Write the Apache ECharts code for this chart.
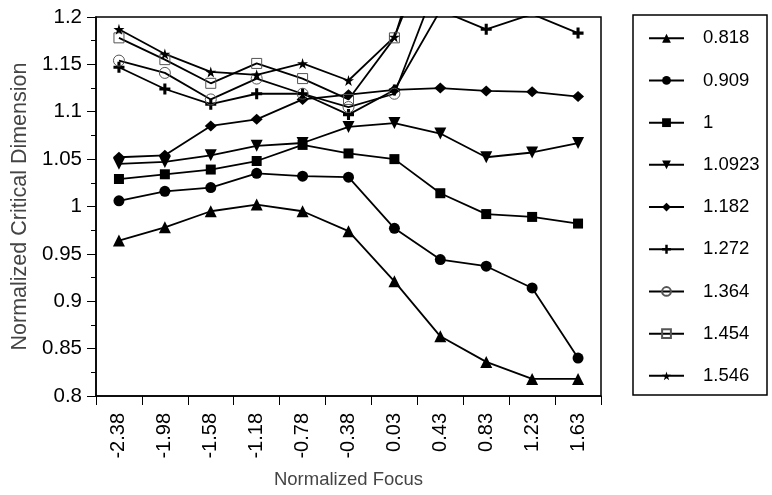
<!DOCTYPE html>
<html>
<head>
<meta charset="utf-8">
<script src="https://cdn.jsdelivr.net/npm/echarts@6/dist/echarts.min.js"></script>
<style>html,body{margin:0;padding:0;background:#fff}#c{width:772px;height:495px}</style>
</head>
<body>
<div id="c"></div>
<script>
var categories = ['-2.38','-1.98','-1.58','-1.18','-0.78','-0.38','0.03','0.43','0.83','1.23','1.63'];
var seriesNames = ['0.818','0.909','1','1.0923','1.182','1.272','1.364','1.454','1.546'];
var s0818  = [0.964, 0.978, 0.995, 1.002, 0.995, 0.974, 0.921, 0.863, 0.836, 0.818, 0.818];
var s0909  = [1.006, 1.016, 1.020, 1.035, 1.032, 1.031, 0.977, 0.944, 0.937, 0.914, 0.840];
var s1     = [1.029, 1.034, 1.039, 1.048, 1.065, 1.056, 1.050, 1.014, 0.992, 0.989, 0.982];
var s10923 = [1.045, 1.047, 1.054, 1.064, 1.067, 1.084, 1.088, 1.077, 1.052, 1.057, 1.067];
var s1182  = [1.052, 1.054, 1.085, 1.092, 1.113, 1.118, 1.123, 1.125, 1.122, 1.121, 1.116];
var s1272  = [1.147, 1.124, 1.108, 1.119, 1.119, 1.097, 1.123, 1.207, 1.187, 1.203, 1.183];
var s1364  = [1.154, 1.141, 1.113, 1.135, 1.119, 1.105, 1.119, 1.245, 1.26, 1.27, 1.28];
var s1454  = [1.178, 1.155, 1.130, 1.151, 1.135, 1.113, 1.178, 1.330, 1.34, 1.35, 1.36];
var s1546  = [1.187, 1.161, 1.142, 1.139, 1.151, 1.133, 1.179, 1.300, 1.31, 1.32, 1.33];
var yTicks = {min: 0.8, max: 1.2, interval: 0.05};

var FONT = '"Liberation Sans", Arial, sans-serif';
var PLUS = 'path://M3.6,0H6.4V3.6H10V6.4H6.4V10H3.6V6.4H0V3.6H3.6Z';
var STAR = 'path://M50,0 L61,35 L98,35 L68,57 L79,91 L50,70 L21,91 L32,57 L2,35 L39,35 Z';

var values = [s0818, s0909, s1, s10923, s1182, s1272, s1364, s1454, s1546];
var styles = [
  {symbol:'triangle', size:12, rot:0, fill:'#000', border:null},
  {symbol:'circle', size:11, rot:0, fill:'#000', border:null},
  {symbol:'rect', size:10, rot:0, fill:'#000', border:null},
  {symbol:'triangle', size:12, rot:180, fill:'#000', border:null},
  {symbol:'diamond', size:[12,11], rot:0, fill:'#000', border:null},
  {symbol:PLUS, size:11, rot:0, fill:'#000', border:null},
  {symbol:'circle', size:11, rot:0, fill:'rgba(0,0,0,0)', border:'#555'},
  {symbol:'rect', size:10, rot:0, fill:'rgba(0,0,0,0)', border:'#555'},
  {symbol:STAR, size:11, rot:0, fill:'#000', border:null}
];

var series = seriesNames.map(function(n, i){
  var st = styles[i];
  var item = {color: st.fill};
  if (st.border) { item.borderColor = st.border; item.borderWidth = 1; }
  return {
    name: n, type: 'line', data: values[i],
    symbol: st.symbol, symbolSize: st.size, symbolRotate: st.rot,
    showAllSymbol: true, clip: true,
    lineStyle: {color: '#000', width: 1.8},
    itemStyle: item,
    emphasis: {disabled: true},
    animation: false
  };
});

var chart = echarts.init(document.getElementById('c'), null, {renderer: 'canvas'});
chart.setOption({
  backgroundColor: '#fff',
  animation: false,
  grid: {left: 96, top: 17, right: 171, bottom: 99, show: true, borderColor: '#000', borderWidth: 1.5, backgroundColor: 'transparent'},
  legend: {
    orient: 'vertical', left: 648, top: 28.75, padding: 0,
    itemWidth: 35, itemHeight: 11, itemGap: 23.2,
    data: seriesNames,
    textStyle: {fontFamily: FONT, fontSize: 18.5, color: '#000', padding: [0,0,0,14]},
    selectedMode: false
  },
  graphic: [{type: 'rect', shape: {x: 633, y: 15, width: 134, height: 380}, style: {fill: 'none', stroke: '#000', lineWidth: 1.5}}],
  xAxis: {
    type: 'category', data: categories, boundaryGap: true,
    name: 'Normalized Focus', nameLocation: 'middle', nameGap: 74,
    nameTextStyle: {fontFamily: FONT, fontSize: 18.5, color: '#444'},
    axisLine: {lineStyle: {color: '#000', width: 1.5}},
    axisTick: {show: true, interval: 0, alignWithLabel: false, length: 9, lineStyle: {color: '#000', width: 1}},
    axisLabel: {interval: 0, rotate: 90, margin: 17, fontFamily: FONT, fontSize: 20, color: '#000'},
    splitLine: {show: false}
  },
  yAxis: {
    type: 'value', min: yTicks.min, max: yTicks.max, interval: yTicks.interval,
    name: 'Normalized Critical Dimension', nameLocation: 'middle', nameGap: 58,
    nameTextStyle: {fontFamily: FONT, fontSize: 21.5, color: '#444'},
    axisLine: {show: true, lineStyle: {color: '#000', width: 1.5}},
    axisTick: {show: true, length: 9, lineStyle: {color: '#000', width: 1}},
    minorTick: {show: true, splitNumber: 2, length: 5, lineStyle: {color: '#000', width: 1}},
    axisLabel: {margin: 14, fontFamily: FONT, fontSize: 20.5, color: '#000'},
    splitLine: {show: false}
  },
  series: series
});
</script>
</body>
</html>
